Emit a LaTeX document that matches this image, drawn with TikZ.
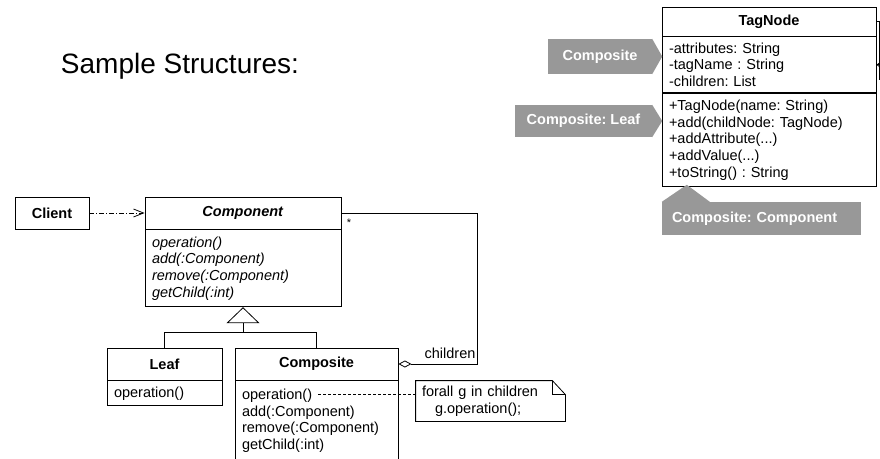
\documentclass[tikz,border=0pt]{standalone}
\usepackage{fontspec}
\setmainfont{Liberation Sans}
\usetikzlibrary{positioning}
\usetikzlibrary{arrows.meta}
\definecolor{calloutgray}{RGB}{152,152,152}
\frenchspacing

\begin{document}
\begin{tikzpicture}[x=1pt, y=-1pt, node distance=0pt,
    box/.style={draw, line width=0.8pt, inner sep=0pt, font=\fontsize{14.5}{16.7}\selectfont},
    head/.style={box, font=\fontsize{14.5}{16.7}\selectfont\bfseries},
    body/.style={box, align=left, inner xsep=7pt},
    callout/.style={fill=calloutgray, text=white, inner sep=0pt, font=\fontsize{14.5}{16}\selectfont\bfseries},
    depend/.style={line width=0.8pt, dash pattern=on 5pt off 2pt on 1pt off 2pt, -{Straight Barb[length=10pt, width=8pt]}},
    assoc/.style={line width=0.8pt}]

    \useasboundingbox (0,0) rectangle (880,458);

    \node(title)[font=\fontsize{28}{30}\selectfont] at (180,66) {Sample Structures:};

    % composite pattern structure
    \node(client)[head, minimum width=74pt, minimum height=32pt] at (52,213) {Client};
    \node(comp)[head, minimum width=196pt, minimum height=32pt] at (243,213) {\textit{Component}};
    \node(compops)[body, text width=182pt, minimum height=77pt, below=of comp, font=\fontsize{14.5}{16.7}\selectfont\itshape]{operation()\\add(:Component)\\remove(:Component)\\getChild(:int)};

    \node(leaf)[head, minimum width=115pt, minimum height=32pt] at (164.5,364) {Leaf};
    \node(leafops)[body, text width=101pt, minimum height=25pt, below=of leaf]{operation()};

    \node(composite)[head, minimum width=163pt, minimum height=32pt] at (316.5,364) {Composite};
    \node(compositeops)[body, text width=149pt, minimum height=80pt, below=of composite]{operation()\\add(:Component)\\remove(:Component)\\getChild(:int)};

    \node(note)[box, draw=none, align=left, inner xsep=6pt, minimum width=149pt, minimum height=40pt, text width=137pt] at (490.5,401) {forall g in children\\\hspace*{13pt}g.operation();};
    \draw[assoc] (note.north west) -- ([xshift=-13pt]note.north east) -- ([yshift=-14pt]note.north east) -- (note.south east) -- (note.south west) -- cycle;
    \draw[assoc] ([xshift=-13pt]note.north east) |- ([yshift=-14pt]note.north east);

    \draw[depend] (client) -- (comp);

    \draw[assoc, {Triangle[open, length=16pt, width=33pt]}-] (compops.south) -- ++(0,25) coordinate(branch);
    \draw[assoc] (branch) -| (leaf.north);
    \draw[assoc] (branch) -| (composite.north);

    \draw[assoc, {Diamond[open, length=13pt, width=7pt]}-] (composite.east) -- ++(79,0) |- (comp.east);
    \node(children)[font=\fontsize{14.5}{16}\selectfont] at (450,353) {children};
    \node(many)[font=\fontsize{11}{12}\selectfont] at (349,223) {*};

    \coordinate(opend) at (318,394);
    \draw[line width=0.8pt, dash pattern=on 3pt off 2pt] (opend) -- (note.west |- opend);

    % TagNode class
    \node(tag)[head, minimum width=214pt, minimum height=29pt] at (769,21.5) {TagNode};
    \node(tagattr)[body, text width=200pt, minimum height=56pt, below=of tag]{-attributes: String\\-tagName : String\\-children: List};
    \node(tagops)[body, text width=200pt, minimum height=93pt, below=of tagattr]{+TagNode(name: String)\\+add(childNode: TagNode)\\+addAttribute(...)\\+addValue(...)\\+toString() : String};

    \coordinate(selfend) at (879,80);
    \draw[assoc] (tag.east) -| (selfend);
    \draw[assoc, -{Straight Barb[length=4pt, width=6pt]}] (tagattr.east -| selfend) -- (tagattr.east);

    % role callouts
    \node(rolecomposite)[callout, minimum width=104pt, minimum height=35pt] at (600,56.5) {Composite};
    \fill[calloutgray] (rolecomposite.north east) -- ([xshift=10pt]rolecomposite.east) -- (rolecomposite.south east) -- cycle;
    \node(roleleaf)[callout, minimum width=137pt, minimum height=32pt] at (583.5,121) {Composite: Leaf};
    \fill[calloutgray] (roleleaf.north east) -- ([xshift=10pt]roleleaf.east) -- (roleleaf.south east) -- cycle;
    \node(rolecomponent)[callout, minimum width=199pt, minimum height=33pt, text width=179pt, align=left] at (761.5,218.5) {Composite: Component};
    \fill[calloutgray] (rolecomponent.north west) -- ([xshift=25pt, yshift=17pt]rolecomponent.north west) -- ([xshift=48pt]rolecomponent.north west) -- cycle;

\end{tikzpicture}
\end{document}
